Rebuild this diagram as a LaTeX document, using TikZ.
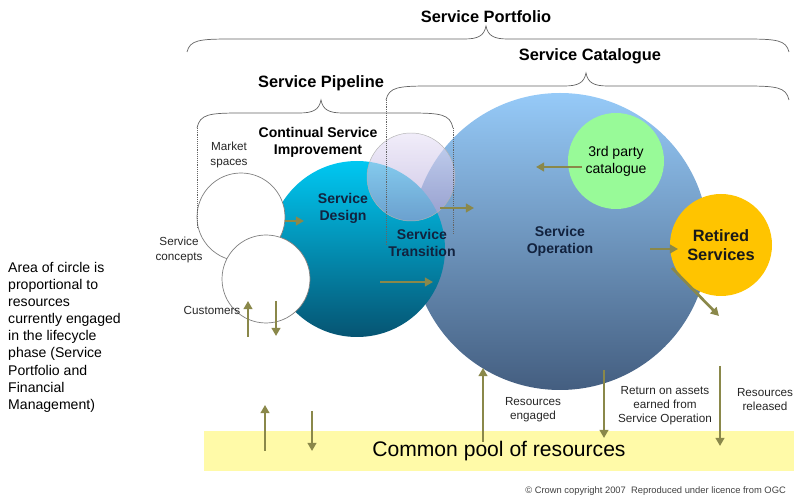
\documentclass[tikz,border=0pt]{standalone}
\usepackage{fontspec}
\setmainfont{Liberation Sans}
\usetikzlibrary{arrows.meta}
\definecolor{olivearrow}{RGB}{138,136,74}
\definecolor{navytext}{RGB}{18,34,62}
\definecolor{bracegray}{RGB}{100,100,100}
\definecolor{operTop}{RGB}{150,202,248}
\definecolor{operMid}{RGB}{118,160,210}
\definecolor{operBot}{RGB}{68,94,128}
\definecolor{designTop}{RGB}{0,200,242}
\definecolor{designBot}{RGB}{6,84,114}
\definecolor{transTop}{RGB}{232,226,246}
\definecolor{transBot}{RGB}{172,160,212}
\definecolor{partyGreen}{RGB}{152,250,152}
\definecolor{retiredGold}{RGB}{255,196,0}
\definecolor{poolYellow}{RGB}{255,250,168}

% x0, x1, tip x, end y, line y, tip y
\newcommand{\svcbrace}[6]{%
  \draw[brace] (#1,#4) .. controls ({#1+3},{#5-1}) and ({#1+12},#5) .. ({#1+45},#5)
    -- ({#3-22},#5) .. controls ({#3-8},#5) and ({#3-2},{#5+3}) .. (#3,#6)
    .. controls ({#3+2},{#5+3}) and ({#3+8},#5) .. ({#3+22},#5)
    -- ({#2-45},#5) .. controls ({#2-12},#5) and ({#2-3},{#5-1}) .. (#2,#4);}

\begin{document}
\begin{tikzpicture}[x=0.03cm, y=0.03cm,
  brace/.style={bracegray, line width=0.6pt},
  guide/.style={bracegray, densely dotted, line width=0.6pt},
  head/.style={font=\bfseries\fontsize{14}{16}\selectfont, align=center},
  phase/.style={font=\bfseries\fontsize{12}{14.5}\selectfont, align=center, text=navytext},
  small/.style={font=\fontsize{10}{12}\selectfont, align=center, text=black!85},
  note/.style={font=\fontsize{12}{14.6}\selectfont, align=left, inner sep=0pt},
  flow/.style={olivearrow, line width=2.3pt, -{Triangle[length=7pt,width=7.5pt]}},
  disc/.style={circle, inner sep=0pt, minimum size=#1*0.06cm},
  blank/.style={disc=#1, draw=black!50, fill=white, line width=0.6pt}
]
\useasboundingbox (0,0) rectangle (800,503);

% braces and their titles
\node[head] (portfolio) at (486,486) {Service Portfolio};
\svcbrace{187}{789}{486}{451}{464}{477}
\node[head] (catalogue) at (590,447) {Service Catalogue};
\svcbrace{386}{789}{586}{403}{417}{430}
\node[head] (pipeline) at (321,420) {Service Pipeline};
\svcbrace{197}{453}{321}{375}{390}{403}

% lifecycle circles
\node[disc=148.5, top color=operTop, middle color=operMid, bottom color=operBot, phase] (oper) at (560,261.5) {Service\\Operation};
\node[disc=48, fill=partyGreen, font=\fontsize{12}{14.5}\selectfont, align=center] (party) at (616,342) {3rd party\\catalogue};
\node[disc=88, top color=designTop, bottom color=designBot] (design) at (357,254) {};
\node[blank=44] (market) at (241,286) {};
\node[blank=44] (cust) at (266,224) {};
\node[disc=44, top color=transTop, bottom color=transBot, fill opacity=0.62, draw=black!30, line width=0.4pt] (trans) at (411,326) {};
\node[disc=51, fill=retiredGold, head, text=black!90] (retired) at (721,258) {Retired\\Services};

% dotted edges of the brackets
\coordinate (catL) at (386,403);
\coordinate (catB) at (386,258);
\coordinate (pipL) at (197,375);
\coordinate (pipLB) at (197,275);
\coordinate (pipR) at (453,375);
\coordinate (pipRB) at (453,270);
\draw[guide] (catL) -- (catB);
\draw[guide] (pipL) -- (pipLB);
\draw[guide] (pipR) -- (pipRB);

% texts
\node[head, font=\bfseries\fontsize{12}{14.5}\selectfont] (csi) at (318,361) {Continual Service\\Improvement};
\node[phase] (designtext) at (343,295) {Service\\Design};
\node[phase] (transtext) at (422,260) {Service\\Transition};
\node[small] (marketlbl) at (229,348) {Market\\spaces};
\node[small] (conceptlbl) at (179,253) {Service\\concepts};
\node[small] (custlbl) at (212,193) {Customers};

\node[note, anchor=north west] (areanote) at (8,241) {Area of circle is\\proportional to\\resources\\currently engaged\\in the lifecycle\\phase (Service\\Portfolio and\\Financial\\Management)};

% common pool
\node[fill=poolYellow, minimum width=17.7cm, minimum height=1.2cm, inner sep=0pt, font=\fontsize{18}{20}\selectfont] (pool) at (499,52) {Common pool of resources};
\node[small] (engagedlbl) at (533,93) {Resources\\engaged};
\node[small] (returnlbl) at (665,97) {Return on assets\\earned from\\Service Operation};
\node[small] (releasedlbl) at (765,103) {Resources\\released};
\node[font=\fontsize{8}{9}\selectfont, text=black!75, anchor=east] (copy) at (790,12) {\textcopyright{} Crown copyright 2007\ \ Reproduced under licence from OGC};

% flows
\coordinate (msA) at (285,282);  \coordinate (msB) at (304,282);
\coordinate (trA) at (440,295);  \coordinate (trB) at (474,295);
\coordinate (dsA) at (380,221);  \coordinate (dsB) at (433,221);
\coordinate (tpA) at (582,336);  \coordinate (tpB) at (536,336);
\coordinate (rtA) at (650,254);  \coordinate (rtB) at (678,254);
\coordinate (roA) at (672,235);  \coordinate (roB) at (719,187);
\coordinate (cuA) at (248,166);  \coordinate (cuB) at (248,202);
\coordinate (cdA) at (276,202);  \coordinate (cdB) at (276,167);
\coordinate (puA) at (265,52);   \coordinate (puB) at (265,98);
\coordinate (pdA) at (312,92);   \coordinate (pdB) at (312,52);
\coordinate (enA) at (483,61);   \coordinate (enB) at (483,135);
\coordinate (reA) at (604,133);  \coordinate (reB) at (604,65);
\coordinate (rlA) at (720,137);  \coordinate (rlB) at (720,57);
\draw[flow] (msA) -- (msB);
\draw[flow] (trA) -- (trB);
\draw[flow] (dsA) -- (dsB);
\draw[flow] (tpA) -- (tpB);
\draw[flow] (rtA) -- (rtB);
\draw[flow] (roA) -- (roB);
\draw[flow] (cuA) -- (cuB);
\draw[flow] (cdA) -- (cdB);
\draw[flow] (puA) -- (puB);
\draw[flow] (pdA) -- (pdB);
\draw[flow] (enA) -- (enB);
\draw[flow] (reA) -- (reB);
\draw[flow] (rlA) -- (rlB);
\end{tikzpicture}
\end{document}
